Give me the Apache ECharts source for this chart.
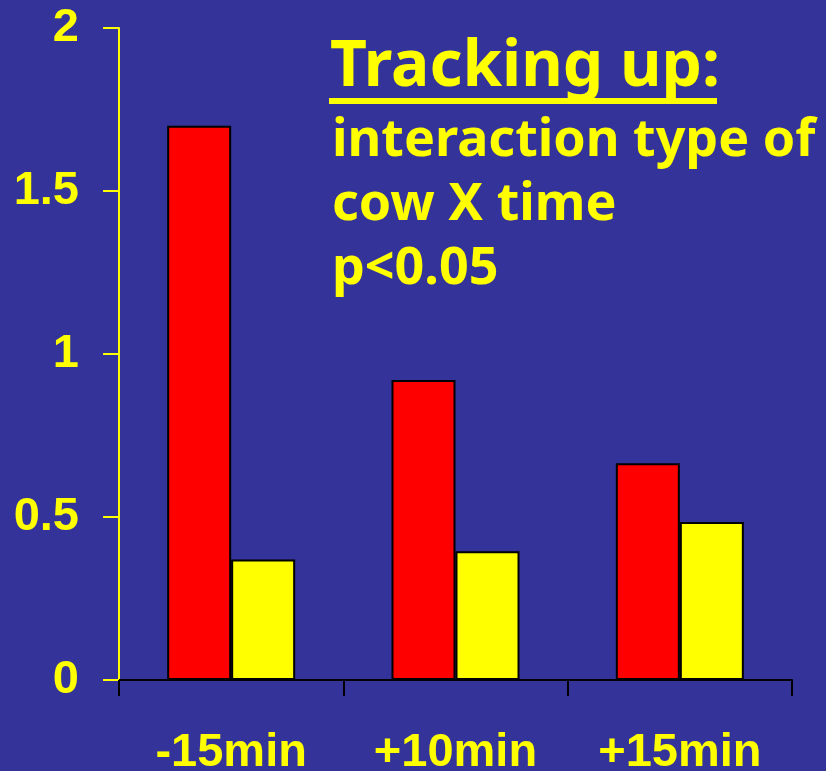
<!DOCTYPE html>
<html><head><meta charset="utf-8">
<script src="https://cdn.jsdelivr.net/npm/echarts@6/dist/echarts.min.js"></script>
<style>html,body{margin:0;padding:0;background:#333399;}#c{width:826px;height:771px;}</style>
</head><body><div id="c"></div>
<script>
const categories = ['-15min', '+10min', '+15min'];
const redValues = [1.70, 0.92, 0.665];
const yellowValues = [0.37, 0.395, 0.485];
const yTicks = {min: 0, max: 2, interval: 0.5};
const titleLines = ['Tracking up:', 'interaction type of', 'cow X time', 'p<0.05'];

const chart = echarts.init(document.getElementById('c'), null, {renderer: 'canvas'});
const titleFont = '"Noto Sans", sans-serif';
chart.setOption({
  backgroundColor: '#333399',
  animation: false,
  grid: {left: 119, right: 34, top: 28, bottom: 91, containLabel: false, outerBoundsMode: 'none'},
  xAxis: {
    type: 'category', data: categories, boundaryGap: true,
    axisLine: {lineStyle: {color: '#000', width: 2}},
    axisTick: {show: true, length: 16, lineStyle: {color: '#000', width: 2}},
    axisLabel: {color: '#ffff00', fontFamily: '"Liberation Sans", Arial, sans-serif', fontWeight: 'bold', fontSize: 47, margin: 50}
  },
  yAxis: {
    type: 'value', min: yTicks.min, max: yTicks.max, interval: yTicks.interval,
    splitLine: {show: false},
    axisLine: {show: true, lineStyle: {color: '#ffff00', width: 2}},
    axisTick: {show: true, length: 16, lineStyle: {color: '#ffff00', width: 2}},
    axisLabel: {color: '#ffff00', fontFamily: '"Liberation Sans", Arial, sans-serif', fontWeight: 'bold', fontSize: 47, margin: 40}
  },
  series: [
    {type: 'bar', data: redValues, barWidth: 64, barGap: '0%',
     itemStyle: {color: '#ff0000', borderColor: '#000', borderWidth: 2}},
    {type: 'bar', data: yellowValues, barWidth: 64, barGap: '0%',
     itemStyle: {color: '#ffff00', borderColor: '#000', borderWidth: 2}}
  ],
  graphic: [
    {type: 'text', left: 330, top: 36, style: {text: titleLines[0], fill: '#ffff00', font: 'bold 64px ' + titleFont}},
    {type: 'rect', shape: {x: 329, y: 98, width: 388, height: 6}, style: {fill: '#ffff00'}},
    {type: 'text', left: 332, top: 115, style: {text: titleLines[1], fill: '#ffff00', font: 'bold 52px ' + titleFont}},
    {type: 'text', left: 332, top: 179, style: {text: titleLines[2], fill: '#ffff00', font: 'bold 52px ' + titleFont}},
    {type: 'text', left: 332, top: 243, style: {text: titleLines[3], fill: '#ffff00', font: 'bold 52px ' + titleFont}}
  ]
});
</script></body></html>
